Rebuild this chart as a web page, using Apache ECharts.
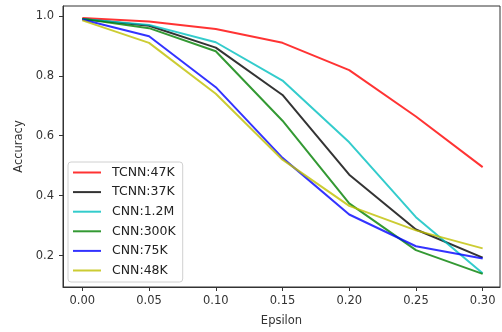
<!DOCTYPE html>
<html>
<head>
<meta charset="utf-8">
<script src="https://cdn.jsdelivr.net/npm/echarts@6/dist/echarts.min.js"></script>
<style>
  html, body { margin: 0; padding: 0; background: #fff; }
  #chart { width: 502px; height: 332px; }
</style>
</head>
<body>
<div id="chart"></div>
<script>
// epsilon values on the x axis
const epsilons = [0.0, 0.05, 0.1, 0.15, 0.2, 0.25, 0.3];

// accuracy per model
const tcnn47k = [0.993, 0.981, 0.956, 0.91, 0.819, 0.664, 0.495];
const tcnn37k = [0.99, 0.967, 0.894, 0.736, 0.47, 0.287, 0.193];
const cnn1_2m = [0.99, 0.97, 0.912, 0.784, 0.578, 0.328, 0.141];
const cnn300k = [0.99, 0.959, 0.882, 0.65, 0.374, 0.218, 0.139];
const cnn75k = [0.988, 0.932, 0.762, 0.526, 0.337, 0.231, 0.19];
const cnn48k = [0.985, 0.91, 0.74, 0.52, 0.366, 0.284, 0.224];

const seriesNames = ['TCNN:47K', 'TCNN:37K', 'CNN:1.2M', 'CNN:300K', 'CNN:75K', 'CNN:48K'];

// tick positions
const xTicks = [0.0, 0.05, 0.1, 0.15, 0.2, 0.25, 0.3];
const yTicks = [0.2, 0.4, 0.6, 0.8, 1.0];

const colors = [
  'rgba(255,0,0,0.8)',
  'rgba(0,0,0,0.8)',
  'rgba(0,191,191,0.8)',
  'rgba(0,128,0,0.8)',
  'rgba(0,0,255,0.8)',
  'rgba(191,191,0,0.8)',
];

const chart = echarts.init(document.getElementById('chart'), null, { renderer: 'canvas' });

const allData = [tcnn47k, tcnn37k, cnn1_2m, cnn300k, cnn75k, cnn48k];
const font = 'DejaVu Sans';

const option = {
  animation: false,
  color: colors,
  grid: {
    left: 63,
    right: 2,
    top: 6,
    bottom: 42,
    show: true,
    borderColor: '#333',
    borderWidth: 1,
    backgroundColor: 'transparent',
  },
  legend: {
    orient: 'vertical',
    left: 68,
    top: 162,
    padding: [4, 7, 5, 5],
    icon: 'path://M0,0H28V2H0Z',
    itemWidth: 28,
    itemHeight: 14,
    itemGap: 6.6,
    backgroundColor: 'rgba(255,255,255,0.8)',
    borderColor: '#d0d0d0',
    borderWidth: 1,
    borderRadius: 3,
    textStyle: {
      fontFamily: font,
      fontSize: 12.5,
      color: '#222',
      padding: [0, 0, 0, 6],
    },
    data: seriesNames,
  },
  xAxis: {
    type: 'value',
    min: -0.0145,
    max: 0.313,
    name: 'Epsilon',
    nameLocation: 'middle',
    nameGap: 28,
    nameTextStyle: { fontFamily: font, fontSize: 11.5, color: '#333' },
    axisLine: { show: true, onZero: false, lineStyle: { color: '#333', width: 1 } },
    axisTick: { show: true, length: 4, customValues: xTicks, lineStyle: { color: '#333' } },
    axisLabel: {
      customValues: xTicks,
      margin: 8,
      fontFamily: font,
      fontSize: 11.5,
      color: '#333',
      formatter: (v) => v.toFixed(2),
    },
    splitLine: { show: false },
  },
  yAxis: {
    type: 'value',
    min: 0.095,
    max: 1.033,
    name: 'Accuracy',
    nameLocation: 'middle',
    nameGap: 38,
    nameTextStyle: { fontFamily: font, fontSize: 11.5, color: '#333' },
    axisLine: { show: true, onZero: false, lineStyle: { color: '#333', width: 1 } },
    axisTick: { show: true, length: 4, customValues: yTicks, lineStyle: { color: '#333' } },
    axisLabel: {
      customValues: yTicks,
      margin: 9,
      fontFamily: font,
      fontSize: 11.5,
      color: '#333',
      formatter: (v) => v.toFixed(1),
    },
    splitLine: { show: false },
  },
  series: seriesNames.map((name, i) => ({
    name: name,
    type: 'line',
    symbol: 'none',
    lineStyle: { width: 2, color: colors[i] },
    itemStyle: { color: colors[i] },
    data: epsilons.map((e, j) => [e, allData[i][j]]),
  })),
};

chart.setOption(option);
</script>
</body>
</html>
